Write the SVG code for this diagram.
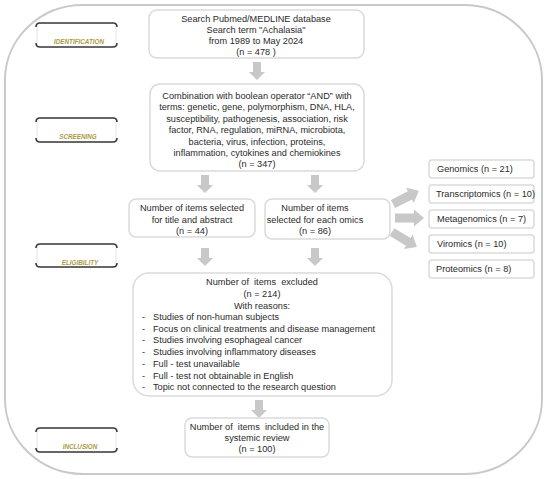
<svg xmlns="http://www.w3.org/2000/svg" width="550" height="479" viewBox="0 0 550 479">
<style>
.frame{fill:#fff;stroke:#c9c9c9;stroke-width:2}
.box{fill:#fff;stroke:#dadada;stroke-width:1.5}
.t{font-family:"Liberation Sans",Arial,sans-serif;font-size:9.2px;fill:#2a2a2a;white-space:pre}
.c{text-anchor:middle}
.lbl{font-family:"Liberation Sans",Arial,sans-serif;font-size:6.3px;font-weight:bold;font-style:italic;fill:#ab9a45;text-anchor:middle}
.bar{fill:none;stroke:#3a3a3a;stroke-width:1.6}
.bg{fill:#fff;stroke:#e4e4e4;stroke-width:1}
.arr{fill:#c8c8c8}
</style>
<defs>
<path id="down" d="M-4,0 H4 V10 H8 L0,18 L-8,10 H-4 Z"/>
<path id="right" d="M0,-4.5 H19 V-8.5 L29,0 L19,8.5 V4.5 H0 Z"/>
</defs>
<rect width="550" height="479" fill="#fff"/>
<rect class="frame" x="5" y="5" width="537" height="469" rx="78" ry="75"/>

<g id="label-identification">
<rect class="bg" x="37" y="23" width="79" height="24" rx="3"/>
<path class="bar" d="M36,27 Q36,23 40,23 H113 Q117,23 117,27"/>
<path class="bar" d="M36,43 Q36,47 40,47 H113 Q117,47 117,43"/>
<text class="lbl" x="79" y="44">IDENTIFICATION</text>
</g>
<g id="label-screening">
<rect class="bg" x="37" y="118" width="79" height="24" rx="3"/>
<path class="bar" d="M36,122 Q36,118 40,118 H113 Q117,118 117,122"/>
<path class="bar" d="M36,138 Q36,142 40,142 H113 Q117,142 117,138"/>
<text class="lbl" x="78" y="139">SCREENING</text>
</g>
<g id="label-eligibility">
<rect class="bg" x="37" y="244" width="79" height="23" rx="3"/>
<path class="bar" d="M36,248 Q36,244 40,244 H113 Q117,244 117,248"/>
<path class="bar" d="M36,263 Q36,267 40,267 H113 Q117,267 117,263"/>
<text class="lbl" x="80" y="265">ELIGIBILITY</text>
</g>
<g id="label-inclusion">
<rect class="bg" x="37" y="428" width="79" height="24" rx="3"/>
<path class="bar" d="M36,432 Q36,428 40,428 H113 Q117,428 117,432"/>
<path class="bar" d="M36,448 Q36,452 40,452 H113 Q117,452 117,448"/>
<text class="lbl" x="80" y="449">INCLUSION</text>
</g>

<g id="connectors">
<use href="#down" class="arr" x="257" y="62"/>
<use href="#down" class="arr" x="205" y="175"/>
<use href="#down" class="arr" x="315" y="175"/>
<use href="#down" class="arr" x="205" y="248"/>
<use href="#down" class="arr" x="315" y="248"/>
<use href="#down" class="arr" x="259" y="400"/>
<use href="#right" class="arr" transform="translate(393,204) rotate(-27)"/>
<use href="#right" class="arr" transform="translate(395,218)"/>
<use href="#right" class="arr" transform="translate(392,232) rotate(31)"/>
</g>

<g id="box-search">
<rect class="box" x="149" y="10" width="215" height="48" rx="8"/>
<text class="t c" x="256" y="22">Search Pubmed/MEDLINE database</text>
<text class="t c" x="256" y="33">Search term "Achalasia"</text>
<text class="t c" x="256" y="44">from 1989 to May 2024</text>
<text class="t c" x="256" y="55">(n = 478 )</text>
</g>

<g id="box-combination">
<rect class="box" x="150" y="84" width="214" height="87" rx="10"/>
<text class="t c" x="257" y="99">Combination with boolean operator “AND” with</text>
<text class="t c" x="257" y="110.4">terms: genetic, gene, polymorphism, DNA, HLA,</text>
<text class="t c" x="257" y="121.8">susceptibility, pathogenesis, association, risk</text>
<text class="t c" x="257" y="133.2">factor, RNA, regulation, miRNA, microbiota,</text>
<text class="t c" x="257" y="144.6">bacteria, virus, infection, proteins,</text>
<text class="t c" x="257" y="156">inflammation, cytokines and chemiokines</text>
<text class="t c" x="257" y="167.4">(n = 347)</text>
</g>

<g id="box-title-abstract">
<rect class="box" x="129" y="199" width="126" height="38" rx="7"/>
<text class="t c" x="192" y="211">Number of items selected</text>
<text class="t c" x="192" y="223">for title and abstract</text>
<text class="t c" x="192" y="234">(n = 44)</text>
</g>

<g id="box-omics">
<rect class="box" x="265" y="199" width="125" height="40" rx="7"/>
<text class="t c" x="315" y="211">Number of items</text>
<text class="t c" x="315" y="223">selected for each omics</text>
<text class="t c" x="315" y="234">(n = 86)</text>
</g>

<g id="box-genomics">
<rect class="box" x="429" y="160" width="105" height="18" rx="3"/>
<text class="t" x="437" y="172">Genomics (n = 21)</text>
</g>
<g id="box-transcriptomics">
<rect class="box" x="429" y="185" width="105" height="18" rx="3"/>
<text class="t" x="436" y="197">Transcriptomics (n = 10)</text>
</g>
<g id="box-metagenomics">
<rect class="box" x="429" y="210" width="105" height="18" rx="3"/>
<text class="t" x="437" y="222">Metagenomics (n = 7)</text>
</g>
<g id="box-viromics">
<rect class="box" x="429" y="235" width="105" height="18" rx="3"/>
<text class="t" x="437" y="247">Viromics (n = 10)</text>
</g>
<g id="box-proteomics">
<rect class="box" x="429" y="260" width="105" height="18" rx="3"/>
<text class="t" x="436" y="272">Proteomics (n = 8)</text>
</g>

<g id="box-excluded">
<rect class="box" x="133" y="273" width="259" height="123" rx="16"/>
<text class="t c" x="262" y="285">Number of  items  excluded</text>
<text class="t c" x="262" y="296.5">(n = 214)</text>
<text class="t c" x="262" y="308.5">With reasons:</text>
<text class="t" x="142" y="320">-</text><text class="t" x="153" y="320">Studies of non-human subjects</text>
<text class="t" x="142" y="331.7">-</text><text class="t" x="153" y="331.7">Focus on clinical treatments and disease management</text>
<text class="t" x="142" y="343.4">-</text><text class="t" x="153" y="343.4">Studies involving esophageal cancer</text>
<text class="t" x="142" y="355.1">-</text><text class="t" x="153" y="355.1">Studies involving inflammatory diseases</text>
<text class="t" x="142" y="366.8">-</text><text class="t" x="153" y="366.8">Full - test unavailable</text>
<text class="t" x="142" y="378.5">-</text><text class="t" x="153" y="378.5">Full - test not obtainable in English</text>
<text class="t" x="142" y="390.2">-</text><text class="t" x="153" y="390.2">Topic not connected to the research question</text>
</g>

<g id="box-included">
<rect class="box" x="185" y="418" width="144" height="39" rx="7"/>
<text class="t c" x="257" y="429.5">Number of  items  included in the</text>
<text class="t c" x="257" y="441">systemic review</text>
<text class="t c" x="257" y="452">(n = 100)</text>
</g>
</svg>
